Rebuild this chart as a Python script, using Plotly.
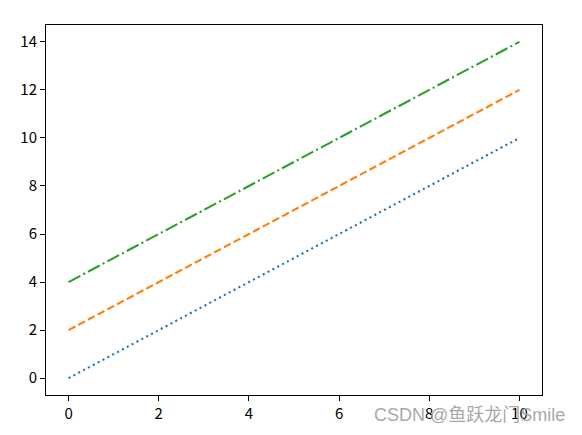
import plotly.graph_objects as go

x_vals = [0, 1, 2, 3, 4, 5, 6, 7, 8, 9, 10]
y_dotted = [0, 1, 2, 3, 4, 5, 6, 7, 8, 9, 10]
y_dashed = [2, 3, 4, 5, 6, 7, 8, 9, 10, 11, 12]
y_dashdot = [4, 5, 6, 7, 8, 9, 10, 11, 12, 13, 14]
x_ticks = [0, 2, 4, 6, 8, 10]
y_ticks = [0, 2, 4, 6, 8, 10, 12, 14]

fig = go.Figure()
fig.add_trace(go.Scatter(x=x_vals, y=y_dotted, mode="lines",
                         line=dict(color="#1f77b4", width=2.1, dash="2.1px,3.4px")))
fig.add_trace(go.Scatter(x=x_vals, y=y_dashed, mode="lines",
                         line=dict(color="#ff7f0e", width=2.1, dash="7.7px,3.3px")))
fig.add_trace(go.Scatter(x=x_vals, y=y_dashdot, mode="lines",
                         line=dict(color="#2ca02c", width=2.1, dash="13.3px,3.3px,2.1px,3.3px")))

axis_common = dict(showgrid=False, zeroline=False, showline=True, mirror=True,
                   linecolor="black", linewidth=1, ticks="outside", ticklen=5,
                   tickwidth=1, tickcolor="black",
                   tickfont=dict(family="Noto Sans CJK SC", size=15, color="black"))

fig.update_layout(
    width=574, height=427,
    margin=dict(l=38, r=40, t=17, b=40),
    paper_bgcolor="white", plot_bgcolor="white",
    showlegend=False,
    xaxis=dict(range=[-0.5, 10.5], tickvals=x_ticks, **axis_common),
    yaxis=dict(range=[-0.7, 14.7], tickvals=y_ticks, **axis_common),
    annotations=[dict(text="CSDN @鱼跃龙门Smile", xref="paper", yref="paper",
                      x=(567 - 46) / 496, y=(395 - 415) / 370,
                      xanchor="right", yanchor="middle",
                      showarrow=False,
                      font=dict(family="Liberation Sans, Noto Sans CJK SC", size=18,
                                color="#a8a8a8"))],
)

fig.write_html("out.html")
